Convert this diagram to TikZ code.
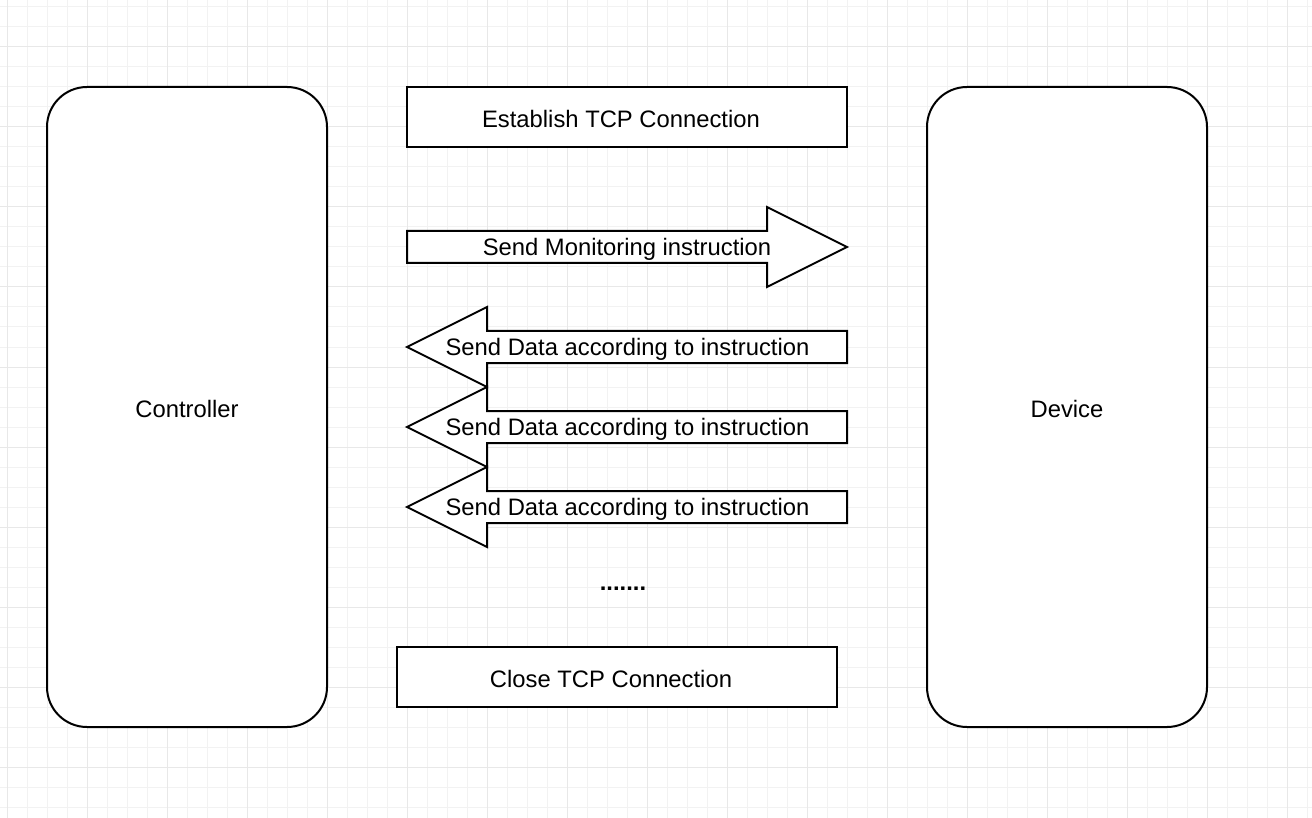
\documentclass[tikz,border=0pt]{standalone}
\usepackage{fontspec}
\setmainfont{Liberation Sans}
\begin{document}
\begin{tikzpicture}[x=1pt,y=-1pt,
  shapeline/.style={draw=black,line width=2pt,fill=white},
  lbl/.style={font=\fontsize{23.8}{28}\selectfont,inner sep=0pt},
  minorgrid/.style={draw=black!5,line width=1pt},
  majorgrid/.style={draw=black!9,line width=1pt}]
\useasboundingbox (0,0) rectangle (1312,818);
\fill[white] (0,0) rectangle (1312,818);
% grid
\foreach \x in {7,27,...,1311} \draw[minorgrid] (\x,0) -- (\x,818);
\foreach \y in {7,27,...,817} \draw[minorgrid] (0,\y) -- (1312,\y);
\foreach \x in {7,87,...,1311} \draw[majorgrid] (\x,0) -- (\x,818);
\foreach \y in {47,127,...,817} \draw[majorgrid] (0,\y) -- (1312,\y);
% side boxes
\draw[shapeline,rounded corners=40pt] (47,87) rectangle (327,727);
\node[lbl] (controller) at (187,409) {Controller};
\draw[shapeline,rounded corners=40pt] (927,87) rectangle (1207,727);
\node[lbl] (device) at (1067,409) {Device};
% establish
\draw[shapeline] (407,87) rectangle (847,147);
\node[lbl] (establish) at (621,119) {Establish TCP Connection};
% monitoring arrow (right)
\draw[shapeline] (407,231) -- (767,231) -- (767,207) -- (847,247) -- (767,287) -- (767,263) -- (407,263) -- cycle;
\node[lbl] (monitor) at (627,249) {Send Monitoring instruction};
% data arrows (left)
\foreach \c/\n in {347/dataA,427/dataB,507/dataC}{
  \draw[shapeline] (847,\c-16) -- (487,\c-16) -- (487,\c-40) -- (407,\c) -- (487,\c+40) -- (487,\c+16) -- (847,\c+16) -- cycle;
  \node[lbl] (\n) at (627.5,\c+2) {Send Data according to instruction};
}
% dots
\node[lbl,font=\fontsize{23.8}{28}\selectfont\bfseries] (dots) at (623,589) {.......};
% close
\draw[shapeline] (397,647) rectangle (837,707);
\node[lbl] (close) at (611,679) {Close TCP Connection};
\end{tikzpicture}
\end{document}
